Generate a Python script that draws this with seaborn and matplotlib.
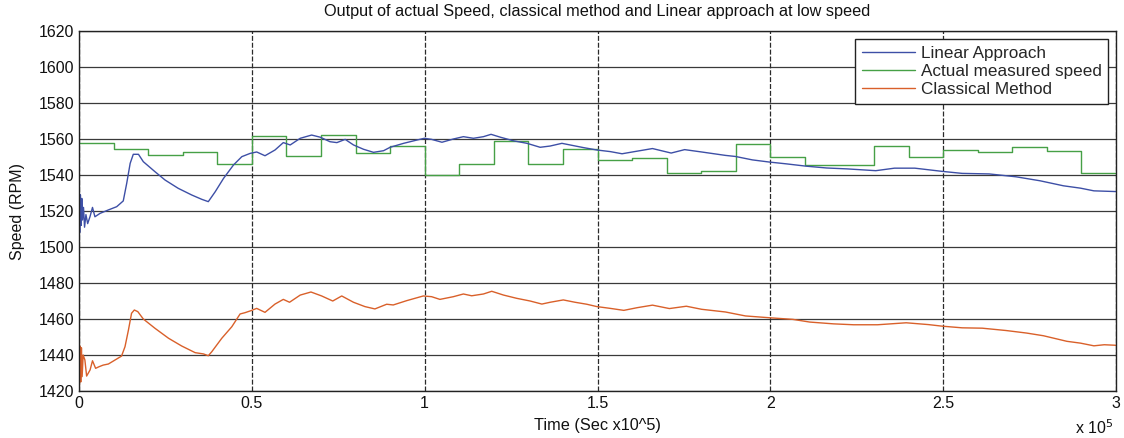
import numpy as np
import pandas as pd
import matplotlib
matplotlib.use("Agg")
import matplotlib.pyplot as plt
import seaborn as sns

# ---- Data (time in units of 1e5) ----
# Actual measured speed: piecewise-constant, one level per 0.1e5
actual_t = [0.0, 0.1, 0.2, 0.3, 0.4, 0.5, 0.6, 0.7, 0.8, 0.9,
            1.0, 1.1, 1.2, 1.3, 1.4, 1.5, 1.6, 1.7, 1.8, 1.9,
            2.0, 2.1, 2.2, 2.3, 2.4, 2.5, 2.6, 2.7, 2.8, 2.9, 3.0]
actual_v = [1558.0, 1554.6, 1551.0, 1552.8, 1546.0, 1561.7, 1550.7, 1562.2, 1552.5, 1556.3,
            1540.0, 1546.0, 1558.9, 1546.0, 1554.3, 1548.3, 1549.4, 1541.3, 1542.2, 1557.2,
            1550.2, 1545.6, 1545.6, 1556.3, 1550.2, 1554.1, 1553.0, 1555.6, 1553.1, 1541.1, 1541.1]

# Linear approach
linear_t = [0.0, 0.002, 0.004, 0.006, 0.008, 0.010, 0.013, 0.016, 0.020, 0.025,
            0.032, 0.039, 0.046, 0.061, 0.085, 0.109, 0.128, 0.138, 0.148, 0.157,
            0.172, 0.186, 0.220, 0.249, 0.287, 0.326, 0.355, 0.374, 0.394, 0.418,
            0.447, 0.471, 0.495, 0.514, 0.538, 0.567, 0.591, 0.611, 0.640, 0.673,
            0.698, 0.726, 0.746, 0.770, 0.794, 0.823, 0.852, 0.881, 0.900, 0.939,
            0.977, 0.999, 1.020, 1.050, 1.083, 1.112, 1.141, 1.170, 1.192, 1.219,
            1.257, 1.296, 1.334, 1.363, 1.397, 1.431, 1.460, 1.498, 1.537, 1.571,
            1.601, 1.659, 1.713, 1.752, 1.801, 1.870, 1.899, 1.948, 1.997, 2.046,
            2.104, 2.163, 2.222, 2.305, 2.359, 2.418, 2.498, 2.555, 2.633, 2.711,
            2.780, 2.848, 2.897, 2.936, 3.000]
linear_v = [1531.0, 1508.0, 1529.0, 1512.0, 1527.0, 1515.0, 1522.0, 1511.0, 1518.0, 1513.0,
            1517.0, 1522.0, 1516.8, 1518.7, 1520.6, 1522.4, 1525.6, 1535.4, 1546.5, 1551.5,
            1551.5, 1547.4, 1541.8, 1537.2, 1532.6, 1528.9, 1526.5, 1525.2, 1530.7, 1538.1,
            1545.6, 1550.2, 1552.0, 1552.8, 1550.7, 1553.9, 1558.0, 1556.7, 1560.4, 1562.2,
            1561.0, 1558.5, 1558.0, 1559.8, 1556.7, 1554.3, 1552.6, 1553.5, 1555.4, 1557.6,
            1559.4, 1560.4, 1559.8, 1558.2, 1560.0, 1561.3, 1560.4, 1561.3, 1562.6, 1561.0,
            1559.0, 1557.6, 1555.4, 1556.1, 1557.6, 1556.3, 1555.2, 1553.9, 1553.0, 1551.8,
            1552.8, 1554.7, 1552.2, 1554.1, 1552.8, 1550.9, 1550.3, 1548.4, 1547.2, 1546.2,
            1544.9, 1543.9, 1543.4, 1542.4, 1543.8, 1543.8, 1542.0, 1540.9, 1540.6, 1539.0,
            1536.8, 1534.0, 1532.7, 1531.2, 1530.8]

# Classical method
classical_t = [0.0, 0.001, 0.003, 0.005, 0.007, 0.009, 0.012, 0.017, 0.022, 0.032,
               0.039, 0.048, 0.058, 0.070, 0.085, 0.104, 0.123, 0.133, 0.143, 0.152,
               0.160, 0.170, 0.186, 0.220, 0.259, 0.297, 0.336, 0.360, 0.374, 0.384,
               0.413, 0.442, 0.466, 0.480, 0.497, 0.514, 0.538, 0.567, 0.591, 0.609,
               0.640, 0.671, 0.702, 0.734, 0.760, 0.794, 0.827, 0.856, 0.890, 0.909,
               0.948, 0.996, 1.020, 1.044, 1.083, 1.112, 1.136, 1.170, 1.194, 1.228,
               1.266, 1.305, 1.339, 1.363, 1.401, 1.435, 1.469, 1.498, 1.537, 1.576,
               1.615, 1.659, 1.708, 1.757, 1.801, 1.870, 1.928, 1.997, 2.065, 2.114,
               2.183, 2.241, 2.310, 2.393, 2.457, 2.498, 2.555, 2.613, 2.682, 2.741,
               2.790, 2.858, 2.897, 2.936, 2.966, 3.000]
classical_v = [1505.0, 1423.0, 1445.0, 1425.0, 1444.0, 1428.0, 1440.0, 1437.2, 1428.3, 1431.7,
               1436.8, 1432.6, 1433.5, 1434.4, 1435.0, 1437.2, 1439.4, 1444.6, 1453.9, 1463.2,
               1465.0, 1464.1, 1460.0, 1454.8, 1449.3, 1445.0, 1441.3, 1440.6, 1439.6, 1441.8,
               1449.3, 1455.7, 1462.8, 1463.5, 1464.6, 1465.9, 1463.7, 1468.3, 1470.9, 1469.3,
               1473.3, 1475.0, 1472.8, 1470.0, 1472.8, 1469.3, 1466.9, 1465.6, 1468.2, 1467.8,
               1470.2, 1472.8, 1472.4, 1470.9, 1472.4, 1473.9, 1472.9, 1473.9, 1475.4, 1473.3,
               1471.5, 1470.0, 1468.3, 1469.3, 1470.6, 1469.3, 1468.2, 1466.9, 1465.9, 1464.8,
               1466.3, 1467.7, 1465.8, 1467.1, 1465.4, 1463.9, 1461.7, 1460.7, 1459.8, 1458.3,
               1457.3, 1456.8, 1456.8, 1457.9, 1456.9, 1456.0, 1455.1, 1454.9, 1453.6, 1452.2,
               1450.7, 1447.6, 1446.6, 1445.1, 1445.7, 1445.4]

x_ticks = [0, 0.5, 1, 1.5, 2, 2.5, 3]
y_ticks = [1420, 1440, 1460, 1480, 1500, 1520, 1540, 1560, 1580, 1600, 1620]

# ---- Plot ----
sns.set_theme(style="white")
plt.rcParams['font.family'] = ['Liberation Sans', 'DejaVu Sans']

fig = plt.figure(figsize=(11.24, 4.38), dpi=100)
ax = fig.add_axes([0.0703, 0.1073, 0.9226, 0.8219])

df_a = pd.DataFrame({"t": actual_t, "v": actual_v})
df_l = pd.DataFrame({"t": linear_t, "v": linear_v})
df_c = pd.DataFrame({"t": classical_t, "v": classical_v})

c_lin = "#3d4fa6"
c_act = "#46a046"
c_cls = "#d9602a"

sns.lineplot(data=df_a, x="t", y="v", ax=ax, color=c_act, linewidth=1.0,
             drawstyle="steps-post", estimator=None, sort=False)
sns.lineplot(data=df_l, x="t", y="v", ax=ax, color=c_lin, linewidth=1.0,
             estimator=None, sort=False)
sns.lineplot(data=df_c, x="t", y="v", ax=ax, color=c_cls, linewidth=1.0,
             estimator=None, sort=False)

lines = ax.get_lines()
h_act, h_lin, h_cls = lines[0], lines[1], lines[2]

ax.set_xlim(0, 3)
ax.set_ylim(1420, 1620)
ax.set_xticks(x_ticks)
ax.set_xticklabels([f"{v:g}" for v in x_ticks])
ax.set_yticks(y_ticks)
ax.tick_params(axis="both", labelsize=11.5, direction="in", length=4, colors="#222222",
               labelcolor="#111111")

for y in y_ticks:
    ax.axhline(y, color="#3a3a3a", linewidth=0.9, zorder=0.5)
for x in x_ticks:
    ax.axvline(x, color="#2a2a2a", linewidth=0.9, linestyle=(0, (4, 1.5)), zorder=0.5)

for s in ax.spines.values():
    s.set_color("#222222")
    s.set_linewidth(1.0)
    s.set_visible(True)

ax.set_title("Output of actual Speed, classical method and Linear approach at low speed",
             fontsize=11.7, pad=11, color="#111111")
ax.set_xlabel("Time (Sec x10^5)", fontsize=11.7, labelpad=5, color="#111111")
ax.set_ylabel("Speed (RPM)", fontsize=11.5, labelpad=10, color="#111111")
ax.text(0.997, -0.103, r"x 10$^5$", transform=ax.transAxes, ha="right", va="center",
        fontsize=11.5, color="#111111")

leg = ax.legend([h_lin, h_act, h_cls],
                ["Linear Approach", "Actual measured speed", "Classical Method"],
                loc="upper right", fontsize=12.3, frameon=True, fancybox=False,
                handlelength=3.1, borderpad=0.4, labelspacing=0.2,
                handletextpad=0.35, borderaxespad=0.45)
leg.get_frame().set_edgecolor("#222222")
leg.get_frame().set_linewidth(1.0)
leg.get_frame().set_alpha(1.0)

fig.savefig("out.png", dpi=100)
